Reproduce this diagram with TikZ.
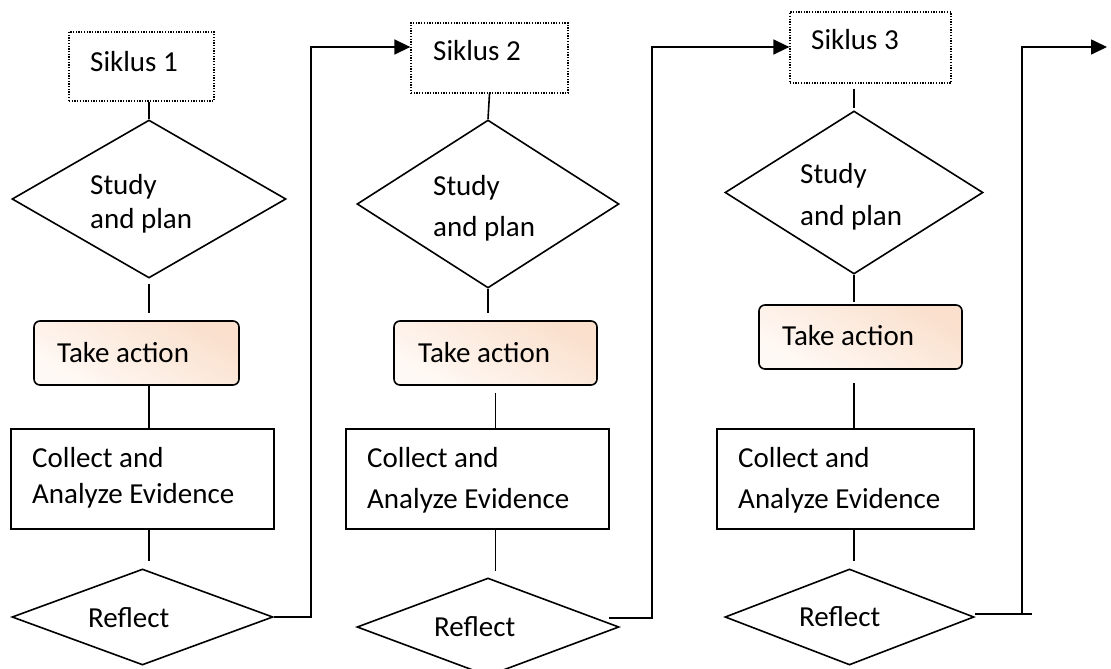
\documentclass[tikz,border=0pt]{standalone}
\usepackage{fontspec}
\setmainfont{Carlito}
\usetikzlibrary{shapes.geometric,arrows.meta}
\definecolor{peach}{RGB}{250,224,205}
\definecolor{peachlight}{RGB}{255,249,245}
\tikzset{
  cyclebox/.style={rectangle, draw, line width=1.3pt, dash pattern=on 1.3pt off 1.4pt, inner sep=0pt},
  decision/.style={diamond, draw, line width=1.6pt, inner sep=0pt},
  actionbox/.style={rectangle, draw, line width=1.6pt, rounded corners=6pt, inner sep=0pt,
    shading=axis, top color=peach, bottom color=peachlight, shading angle=-30},
  plainbox/.style={rectangle, draw, line width=1.6pt, inner sep=0pt},
  lbl/.style={anchor=base west, inner sep=0pt},
  link/.style={line width=1.6pt},
  flow/.style={link, -{Triangle[length=16pt,width=15pt]}}
}
\begin{document}
\begin{tikzpicture}[x=1pt, y=-1pt, font=\fontsize{29}{35}\selectfont]
\useasboundingbox (0,0) rectangle (1111,669);

% ---- cycle 1 ----
\node[cyclebox, minimum width=145pt, minimum height=69pt] (s1) at (141.5,66.5) {};
\node[decision, minimum width=274pt, minimum height=158pt] (d1) at (149,199) {};
\node[actionbox, minimum width=205pt, minimum height=64pt] (t1) at (136.5,353) {};
\node[plainbox, minimum width=263pt, minimum height=100pt] (c1) at (142.5,479) {};
\node[decision, minimum width=261pt, minimum height=96pt] (r1) at (142.5,617) {};

\node[lbl] (s1a) at (90,71) {Siklus 1};
\node[lbl] (d1a) at (90,194) {Study};
\node[lbl] (d1b) at (90,228) {and plan};
\node[lbl] (t1a) at (57,362) {Take action};
\node[lbl] (c1a) at (32,467) {Collect and};
\node[lbl] (c1b) at (32,503) {Analyze Evidence};
\node[lbl] (r1a) at (88,627) {Reflect};

% ---- cycle 2 ----
\node[cyclebox, minimum width=157pt, minimum height=70pt] (s2) at (489.5,58) {};
\node[decision, minimum width=262pt, minimum height=168pt] (d2) at (488,204) {};
\node[actionbox, minimum width=203pt, minimum height=64pt] (t2) at (495.5,353) {};
\node[plainbox, minimum width=263pt, minimum height=100pt] (c2) at (477.5,479) {};
\node[decision, minimum width=262pt, minimum height=98pt] (r2) at (488,627) {};

\node[lbl] (s2a) at (433,61) {Siklus 2};
\node[lbl] (d2a) at (433,195) {Study};
\node[lbl] (d2b) at (433,236) {and plan};
\node[lbl] (t2a) at (418,362) {Take action};
\node[lbl] (c2a) at (367,467) {Collect and};
\node[lbl] (c2b) at (367,508) {Analyze Evidence};
\node[lbl] (r2a) at (434,636) {Reflect};

% ---- cycle 3 ----
\node[cyclebox, minimum width=161pt, minimum height=71pt] (s3) at (870.5,47.5) {};
\node[decision, minimum width=258pt, minimum height=163pt] (d3) at (854,192.5) {};
\node[actionbox, minimum width=203pt, minimum height=64pt] (t3) at (860.5,337) {};
\node[plainbox, minimum width=257pt, minimum height=100pt] (c3) at (845.5,479) {};
\node[decision, minimum width=249pt, minimum height=96pt] (r3) at (849.5,617) {};

\node[lbl] (s3a) at (811,50) {Siklus 3};
\node[lbl] (d3a) at (800,183) {Study};
\node[lbl] (d3b) at (800,225) {and plan};
\node[lbl] (t3a) at (782,345) {Take action};
\node[lbl] (c3a) at (738,467) {Collect and};
\node[lbl] (c3b) at (738,508) {Analyze Evidence};
\node[lbl] (r3a) at (799,626) {Reflect};

% ---- vertical links, cycle 1 ----
\draw[link] (s1.south -| d1.north) -- (d1.north);
\draw[link, shorten <=5pt, shorten >=7pt] (d1.south) -- (d1.south |- t1.north);
\draw[link] (t1.south -| d1.south) -- (d1.south |- c1.north);
\draw[link, shorten >=7pt] (c1.south -| d1.south) -- (d1.south |- r1.north);

% ---- vertical links, cycle 2 ----
\draw[link] (s2.south) -- (d2.north);
\draw[link, shorten >=7pt] (d2.south) -- (d2.south |- t2.north);
\draw[link, shorten <=7pt] (t2.south) -- (t2.south |- c2.north);
\draw[link, shorten >=6pt] (c2.south -| t2.south) -- (t2.south |- r2.north);

% ---- vertical links, cycle 3 ----
\draw[link, shorten <=5pt, shorten >=2pt] (s3.south -| d3.north) -- (d3.north);
\draw[link, shorten >=2pt] (d3.south) -- (d3.south |- t3.north);
\draw[link, shorten <=13pt] (t3.south -| d3.south) -- (d3.south |- c3.north);
\draw[link, shorten >=7pt] (c3.south -| d3.south) -- (d3.south |- r3.north);

% ---- loops from each reflection to the next cycle ----
\coordinate (k1) at (311,47);
\draw[flow] (r1.east) -| (k1) -- (k1 -| s2.west);

\coordinate (k2) at (652,47);
\draw[flow] ([xshift=-11pt,yshift=9pt]r2.east) -| (k2) -- (k2 -| s3.west);

\coordinate (e3) at (1032,614);
\coordinate (k3) at (1022,47);
\coordinate (out) at (1107,47);
\draw[link] ([yshift=3pt]r3.east) -- (e3);
\draw[flow] (k3 |- e3) -- (k3) -- (out);
\end{tikzpicture}
\end{document}
